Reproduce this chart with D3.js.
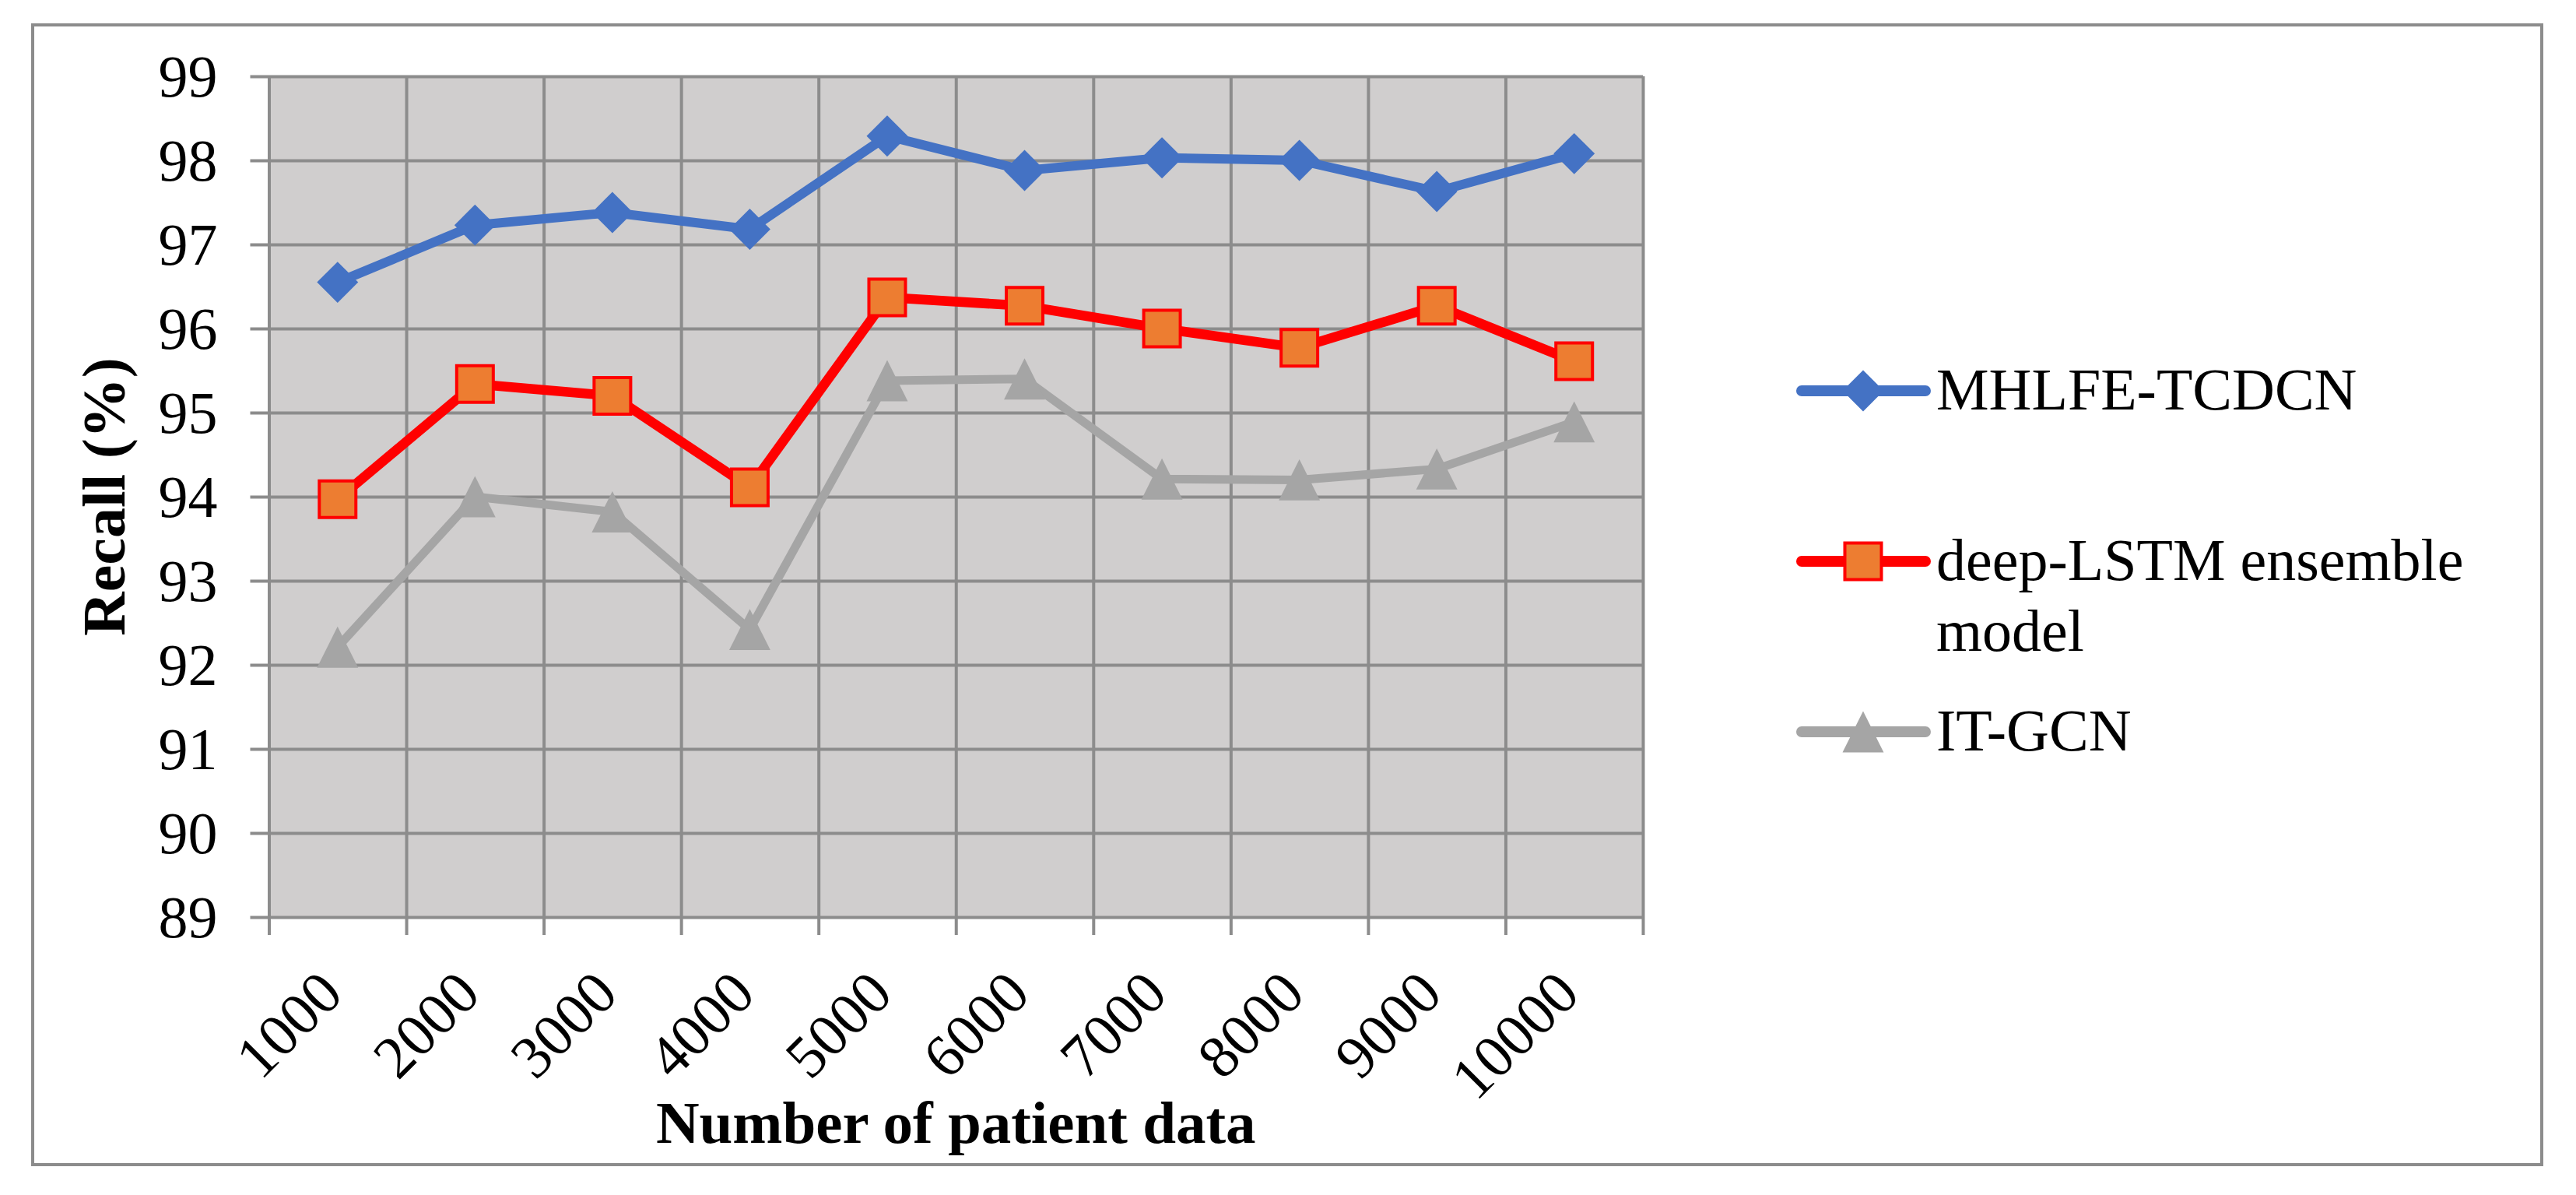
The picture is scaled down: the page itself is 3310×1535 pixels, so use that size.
<!DOCTYPE html>
<html>
<head>
<meta charset="utf-8">
<script src="https://d3js.org/d3.v7.min.js"></script>
<style>
  body { margin: 0; background: #fff; }
  text { font-family: "Liberation Serif", "Times New Roman", serif; fill: #000; }
</style>
</head>
<body>
<svg id="chart" width="3310" height="1535"></svg>
<script>
  // data
  var categories = ["1000", "2000", "3000", "4000", "5000", "6000", "7000", "8000", "9000", "10000"];
  var seriesNames = ["MHLFE-TCDCN", "deep-LSTM ensemble model", "IT-GCN"];
  var mhlfe = [96.55, 97.23, 97.38, 97.18, 98.29, 97.88, 98.03, 98.00, 97.63, 98.08];
  var deepLstm = [93.97, 95.34, 95.20, 94.11, 96.37, 96.27, 96.00, 95.77, 96.27, 95.61];
  var itGcn = [92.21, 94.00, 93.82, 92.42, 95.38, 95.40, 94.21, 94.20, 94.33, 94.89];
  var yTicks = [89, 90, 91, 92, 93, 94, 95, 96, 97, 98, 99];

  var svg = d3.select("#chart");

  // outer frame
  svg.append("rect").attr("x", 42).attr("y", 32).attr("width", 3224).attr("height", 1464)
    .attr("fill", "#fff").attr("stroke", "#8c8c8c").attr("stroke-width", 4);

  var plotL = 345.5, plotR = 2111, plotT = 98, plotB = 1178;
  var W = plotR - plotL, H = plotB - plotT;
  var gridColor = "#8c8c8c";

  var x = d3.scaleBand().domain(categories).range([plotL, plotR]).padding(0);
  var xEdge = d3.scaleLinear().domain([0, categories.length]).range([plotL, plotR]);
  var y = d3.scaleLinear().domain([89, 99]).range([plotB, plotT]);

  // plot background
  svg.append("rect").attr("x", plotL).attr("y", plotT).attr("width", W).attr("height", H).attr("fill", "#d0cece");

  // vertical gridlines + ticks below the axis
  var gx = svg.append("g").attr("transform", "translate(0," + plotB + ")")
    .call(d3.axisBottom(xEdge).tickValues(d3.range(categories.length + 1)).tickSize(-H).tickFormat(""));
  gx.select(".domain").remove();
  gx.selectAll(".tick line").attr("y1", 23).attr("stroke", gridColor).attr("stroke-width", 4);

  // horizontal gridlines + ticks left of the axis
  var gy = svg.append("g").attr("transform", "translate(" + plotL + ",0)")
    .call(d3.axisLeft(y).tickValues(yTicks).tickSize(-W).tickFormat(""));
  gy.select(".domain").remove();
  gy.selectAll(".tick line").attr("x1", -24).attr("stroke", gridColor).attr("stroke-width", 4);

  // y tick labels
  var yl = svg.append("g").attr("transform", "translate(" + plotL + ",0)")
    .call(d3.axisLeft(y).tickValues(yTicks).tickSize(0).tickPadding(66).tickFormat(d3.format("d")));
  yl.select(".domain").remove();
  yl.selectAll("text").style("font-size", "76px").attr("dy", "0.33em");

  // x tick labels, rotated
  var xl = svg.append("g").attr("transform", "translate(0," + plotB + ")")
    .call(d3.axisBottom(x).tickSize(0));
  xl.select(".domain").remove();
  xl.selectAll("text").style("font-size", "77px")
    .attr("x", 0).attr("y", 0).attr("dy", 0)
    .attr("text-anchor", "end")
    .attr("transform", "translate(10,102) rotate(-45)");

  // axis titles
  svg.append("text").attr("x", (plotL + plotR) / 2).attr("y", 1468)
    .attr("text-anchor", "middle").style("font-size", "77px").style("font-weight", "bold")
    .text("Number of patient data");
  svg.append("text").attr("transform", "translate(160," + ((plotT + plotB) / 2) + ") rotate(-90)")
    .attr("text-anchor", "middle").style("font-size", "78px").style("font-weight", "bold")
    .text("Recall (%)");

  // marker shapes
  var triangleType = {
    draw: function(ctx, size) {
      var s = Math.sqrt(size) / 2;
      ctx.moveTo(0, -s); ctx.lineTo(s, s); ctx.lineTo(-s, s); ctx.closePath();
    }
  };
  var series = [
    { name: seriesNames[0], values: mhlfe, color: "#4472c4", width: 12,
      marker: d3.symbol().type(d3.symbolSquare).size(1400)(), rotate: 45, fill: "#4472c4", stroke: "none" },
    { name: seriesNames[1], values: deepLstm, color: "#ff0000", width: 12.5,
      marker: d3.symbol().type(d3.symbolSquare).size(2209)(), rotate: 0, fill: "#ed7d31", stroke: "#ff0000" },
    { name: seriesNames[2], values: itGcn, color: "#a5a5a5", width: 11,
      marker: d3.symbol().type(triangleType).size(2800)(), rotate: 0, fill: "#a5a5a5", stroke: "none" }
  ];

  var line = d3.line()
    .x(function(d, i) { return x(categories[i]) + x.bandwidth() / 2; })
    .y(function(d) { return y(d); });

  series.forEach(function(s) {
    svg.append("path").attr("d", line(s.values)).attr("fill", "none")
      .attr("stroke", s.color).attr("stroke-width", s.width).attr("stroke-linejoin", "round");
  });
  series.forEach(function(s) {
    svg.append("g").selectAll("path").data(s.values).enter().append("path")
      .attr("d", s.marker)
      .attr("transform", function(d, i) {
        return "translate(" + (x(categories[i]) + x.bandwidth() / 2) + "," + y(d) + ") rotate(" + s.rotate + ")";
      })
      .attr("fill", s.fill).attr("stroke", s.stroke).attr("stroke-width", 4);
  });

  // legend
  var legendY = [502, 721, 940];
  series.forEach(function(s, i) {
    var g = svg.append("g").attr("transform", "translate(2315," + legendY[i] + ")");
    g.append("line").attr("x1", 0).attr("x2", 159).attr("stroke", s.color)
      .attr("stroke-width", 14).attr("stroke-linecap", "round");
    g.append("path").attr("d", s.marker).attr("transform", "translate(79,0) rotate(" + s.rotate + ")")
      .attr("fill", s.fill).attr("stroke", s.stroke).attr("stroke-width", 4);
    var t = g.append("text").attr("x", 173).attr("y", 24).style("font-size", "76px");
    if (i === 1) {
      t.append("tspan").attr("x", 173).text("deep-LSTM ensemble");
      t.append("tspan").attr("x", 173).attr("dy", 91).text("model");
    } else {
      t.text(s.name);
    }
  });
</script>
</body>
</html>
